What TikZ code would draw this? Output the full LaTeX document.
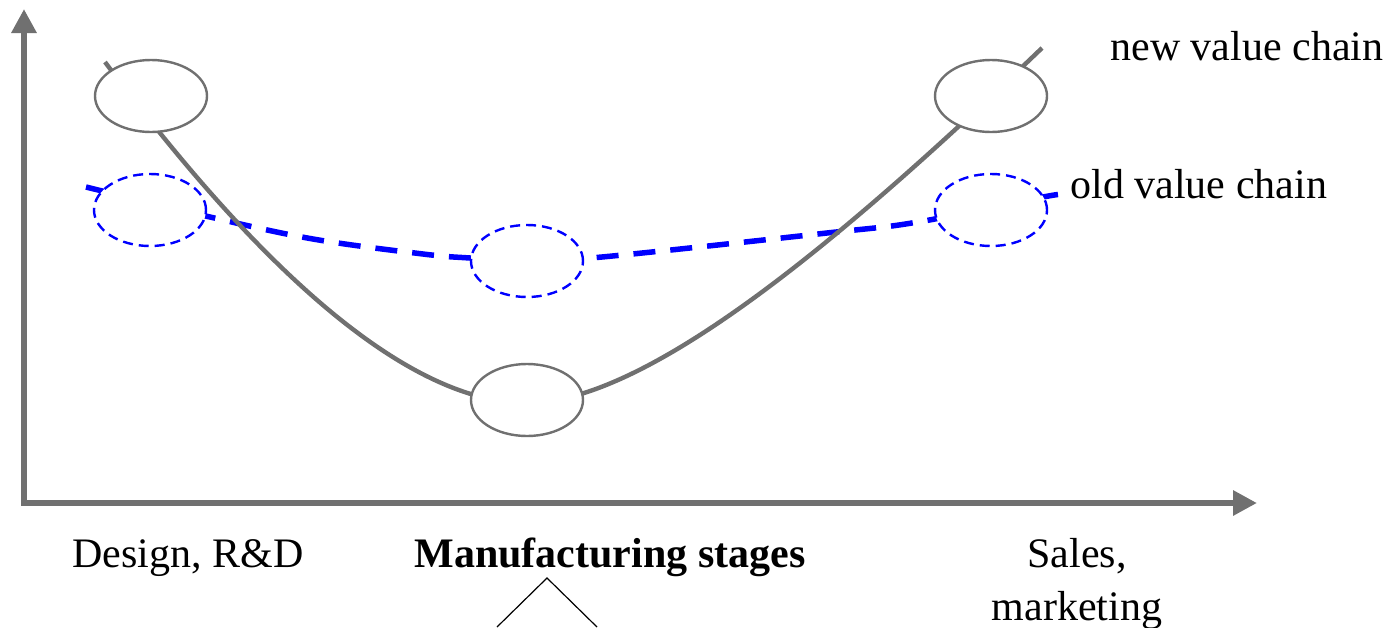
\documentclass[tikz,border=0pt]{standalone}
\usepackage{fontspec}
\setmainfont{Liberation Serif}
\usetikzlibrary{arrows.meta,shapes}

\definecolor{chaingray}{RGB}{112,112,112}

\tikzset{
  axis/.style={line width=3pt, draw=chaingray, line join=miter,
    {Triangle[width=12pt,length=12pt]}-{Triangle[width=12pt,length=12pt]}},
  newstage/.style={ellipse, draw=chaingray, line width=1.2pt, fill=white,
    minimum width=56pt, minimum height=36pt, inner sep=0pt},
  oldstage/.style={ellipse, draw=blue, line width=1.2pt, fill=white,
    dash pattern=on 5pt off 3pt, minimum width=56pt, minimum height=36pt, inner sep=0pt},
  newchain/.style={draw=chaingray, line width=2.2pt},
  oldchain/.style={draw=blue, line width=2.75pt, dash pattern=on 11pt off 7.5pt},
  chaintext/.style={font=\fontsize{21}{26.5}\selectfont, inner sep=0pt}
}

\begin{document}
\begin{tikzpicture}[x=0.5pt, y=-0.5pt]

\useasboundingbox (0,0) rectangle (1392,627);

\coordinate (origin) at (24,503);
\coordinate (ytip) at (24,9);
\coordinate (xtip) at (1257,503);

\coordinate (oldstart) at (86,187);
\coordinate (oldend) at (1067,194);
\coordinate (newstart) at (105,62);
\coordinate (newlow) at (527,403);
\coordinate (newend) at (1042,48);

\coordinate (caretL) at (497,627);
\coordinate (caretT) at (547,578);
\coordinate (caretR) at (597,627);

% axes
\draw[axis] (ytip) -- (origin) -- (xtip);

% old value chain
\draw[oldchain] plot[smooth, tension=0.6] coordinates {(oldstart) (210,217) (313,239) (423,254)
  (470,258) (527,261) (602,257) (827,233) (918,222) (1043,197) (oldend)};

\node[oldstage] (design0) at (150,210) {};
\node[oldstage] (manuf0) at (527,261) {};
\node[oldstage] (sales0) at (991,210) {};

% new value chain
\draw[newchain] (newstart) .. controls (275,290) and (417,403) .. (newlow)
  .. controls (647,403) and (842,240) .. (newend);

\node[newstage] (design1) at (151,96) {};
\node[newstage] (manuf1) at (527,400) {};
\node[newstage] (sales1) at (991,96) {};

% labels
\node[chaintext, anchor=base west] (newlabel) at (1110,60) {new value chain};
\node[chaintext, anchor=base west] (oldlabel) at (1070,198) {old value chain};

\node[chaintext, anchor=base west] (designlabel) at (72,567) {Design, R\&D};
\node[chaintext, anchor=base] (manuflabel) at (610,567) {\bfseries Manufacturing stages};
\node[chaintext, anchor=north, align=center] (saleslabel) at (1077,538) {Sales,\\marketing};

\draw[black, line width=0.6pt] (caretL) -- (caretT) -- (caretR);

\end{tikzpicture}
\end{document}
